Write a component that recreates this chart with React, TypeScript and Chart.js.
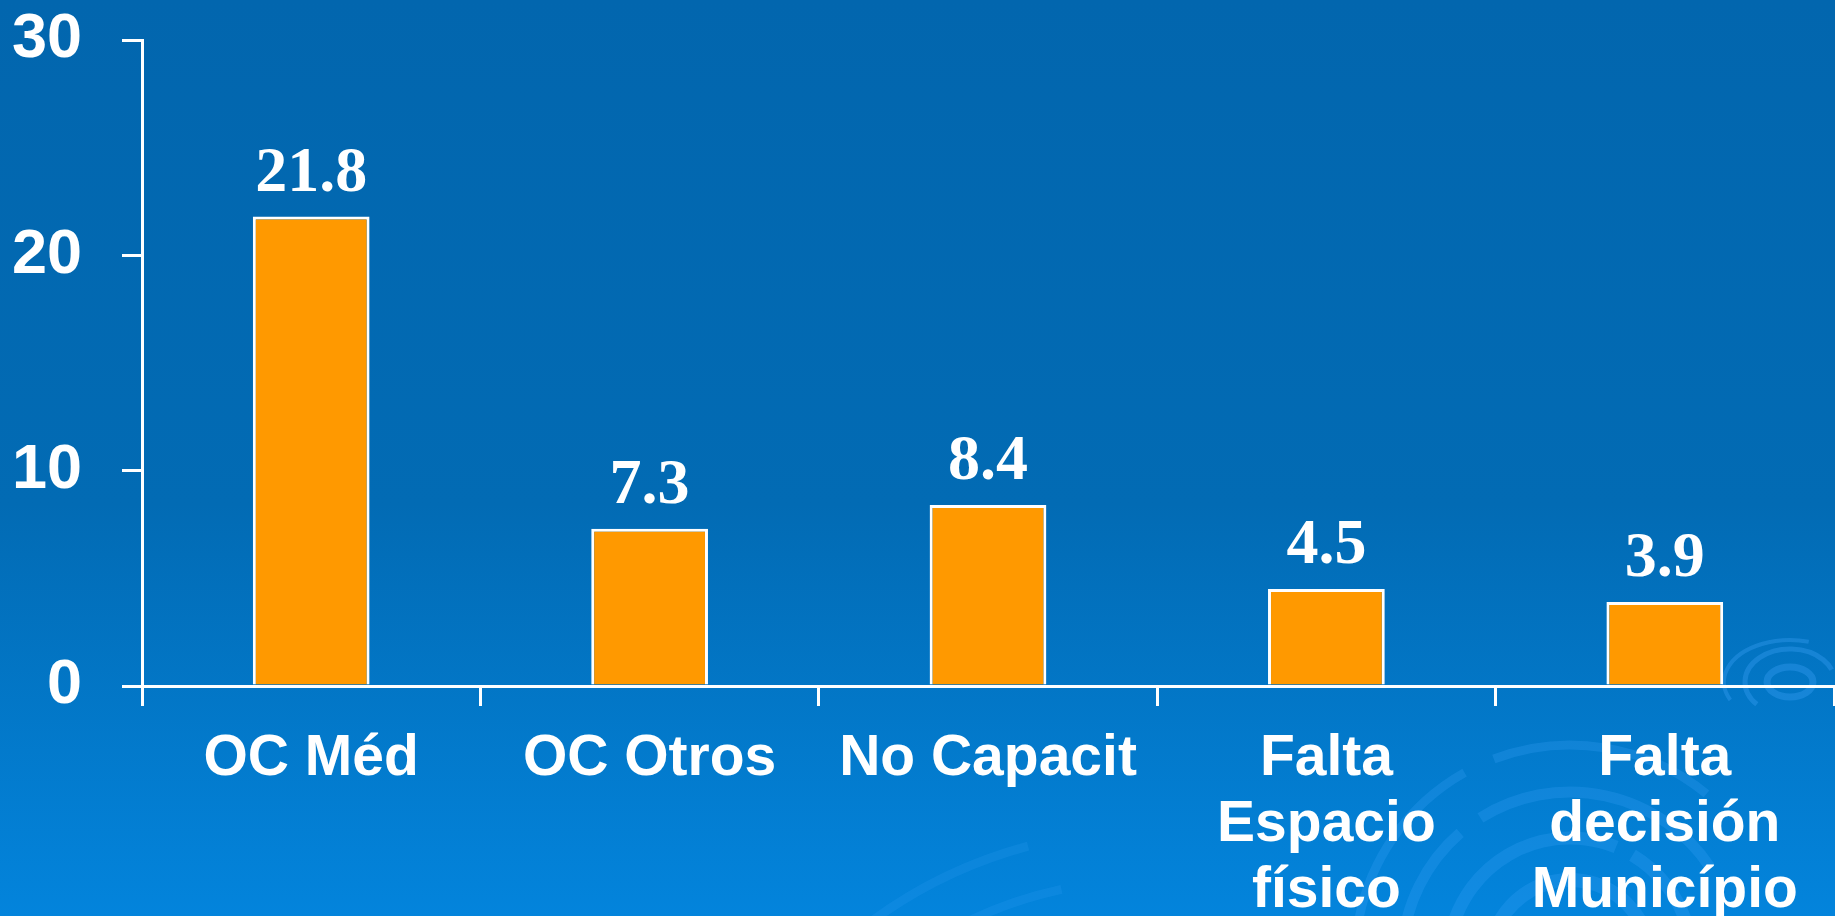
import { useEffect, useRef } from "react";
import { Chart, registerables } from "chart.js";

Chart.register(...registerables);

const categories: (string | string[])[] = [
  "OC Méd",
  "OC Otros",
  "No Capacit",
  ["Falta", "Espacio", "físico"],
  ["Falta", "decisión", "Município"],
];
const values = [21.8, 7.3, 8.4, 4.5, 3.9];
const yTicks = [0, 10, 20, 30];

// purely decorative background swirl (not data)
const swirlPlugin = {
  id: "swirl",
  beforeDraw(chart: any) {
    const ctx = chart.ctx;
    ctx.save();
    ctx.lineCap = "butt";
    ctx.strokeStyle = "rgba(70,170,255,0.22)";
    const big = [
      { r: 215, a0: 3.3, a1: 4.2, w: 9 },
      { r: 215, a0: 4.35, a1: 5.4, w: 9 },
      { r: 168, a0: 3.2, a1: 4.0, w: 11 },
      { r: 168, a0: 4.15, a1: 5.7, w: 11 },
      { r: 122, a0: 3.4, a1: 5.1, w: 13 },
      { r: 122, a0: 5.25, a1: 6.0, w: 13 },
      { r: 80, a0: 3.3, a1: 6.1, w: 14 },
    ];
    big.forEach((a) => {
      ctx.lineWidth = a.w;
      ctx.beginPath();
      ctx.arc(1570, 960, a.r, a.a0, a.a1);
      ctx.stroke();
    });
    ctx.strokeStyle = "rgba(70,170,255,0.14)";
    [
      { r: 470, a0: 4.0, a1: 4.45, w: 9 },
      { r: 420, a0: 4.05, a1: 4.5, w: 9 },
    ].forEach((a) => {
      ctx.lineWidth = a.w;
      ctx.beginPath();
      ctx.arc(1150, 1300, a.r, a.a0, a.a1);
      ctx.stroke();
    });
    ctx.strokeStyle = "rgba(70,170,255,0.3)";
    const small = [
      { rx: 23, ry: 15, a0: 0, a1: 6.28, w: 7 },
      { rx: 45, ry: 33, a0: 2.4, a1: 5.9, w: 5 },
      { rx: 66, ry: 42, a0: 2.7, a1: 5.0, w: 4 },
    ];
    small.forEach((a) => {
      ctx.lineWidth = a.w;
      ctx.beginPath();
      ctx.ellipse(1790, 682, a.rx, a.ry, 0, a.a0, a.a1);
      ctx.stroke();
    });
    ctx.restore();
  },
};

const valueLabelPlugin = {
  id: "valueLabels",
  afterDatasetsDraw(chart: any) {
    const ctx = chart.ctx;
    const meta = chart.getDatasetMeta(0);
    ctx.save();
    ctx.fillStyle = "#ffffff";
    ctx.font = 'bold 64px "Liberation Serif", "Times New Roman", serif';
    ctx.textAlign = "center";
    ctx.textBaseline = "alphabetic";
    meta.data.forEach((el: any, i: number) => {
      ctx.fillText(values[i].toFixed(1), el.x, el.y - 26);
    });
    ctx.restore();
  },
};

export default function App() {
  const ref = useRef<HTMLCanvasElement | null>(null);
  useEffect(() => {
    if (!ref.current) return;
    const chart = new Chart(ref.current, {
      type: "bar",
      data: {
        labels: categories,
        datasets: [
          {
            data: values,
            backgroundColor: "#FF9900",
            borderColor: "#ffffff",
            borderWidth: 3,
            barPercentage: 0.345,
            categoryPercentage: 1,
          },
        ],
      },
      options: {
        animation: false,
        responsive: false,
        devicePixelRatio: 1,
        layout: { padding: { top: 40, right: 1, left: 0, bottom: 0 } },
        plugins: { legend: { display: false }, tooltip: { enabled: false } },
        scales: {
          x: {
            offset: true,
            grid: {
              offset: true,
              drawOnChartArea: false,
              drawTicks: true,
              tickLength: 20,
              color: "#ffffff",
              lineWidth: 3,
            },
            border: { color: "#ffffff", width: 3 },
            ticks: {
              color: "#ffffff",
              font: {
                family: '"Liberation Sans", Arial, sans-serif',
                size: 57,
                weight: "bold",
                lineHeight: 1.15,
              },
              padding: 21,
              maxRotation: 0,
              autoSkip: false,
            },
            afterFit: (s: any) => {
              s.height = 230;
              s.paddingLeft = 0;
              s.paddingRight = 0;
            },
          },
          y: {
            min: 0,
            max: 30,
            afterBuildTicks: (s: any) => {
              s.ticks = yTicks.map((v) => ({ value: v }));
            },
            ticks: {
              color: "#ffffff",
              font: {
                family: '"Liberation Sans", Arial, sans-serif',
                size: 63,
                weight: "bold",
              },
              padding: 40,
            },
            grid: {
              drawOnChartArea: false,
              drawTicks: true,
              tickLength: 20,
              color: "#ffffff",
              lineWidth: 3,
            },
            border: { color: "#ffffff", width: 3 },
            afterFit: (s: any) => {
              s.width = 142;
              s.paddingTop = 0;
              s.paddingBottom = 0;
            },
          },
        },
      },
      plugins: [swirlPlugin, valueLabelPlugin],
    } as any);
    return () => chart.destroy();
  }, []);

  return (
    <div
      style={{
        position: "fixed",
        left: 0,
        top: 0,
        width: 1835,
        height: 916,
        background: "linear-gradient(180deg, #0266AE 0%, #026BB4 55%, #0384DC 100%)",
        overflow: "hidden",
      }}
    >
      <canvas ref={ref} width={1835} height={916} style={{ display: "block" }} />
    </div>
  );
}
